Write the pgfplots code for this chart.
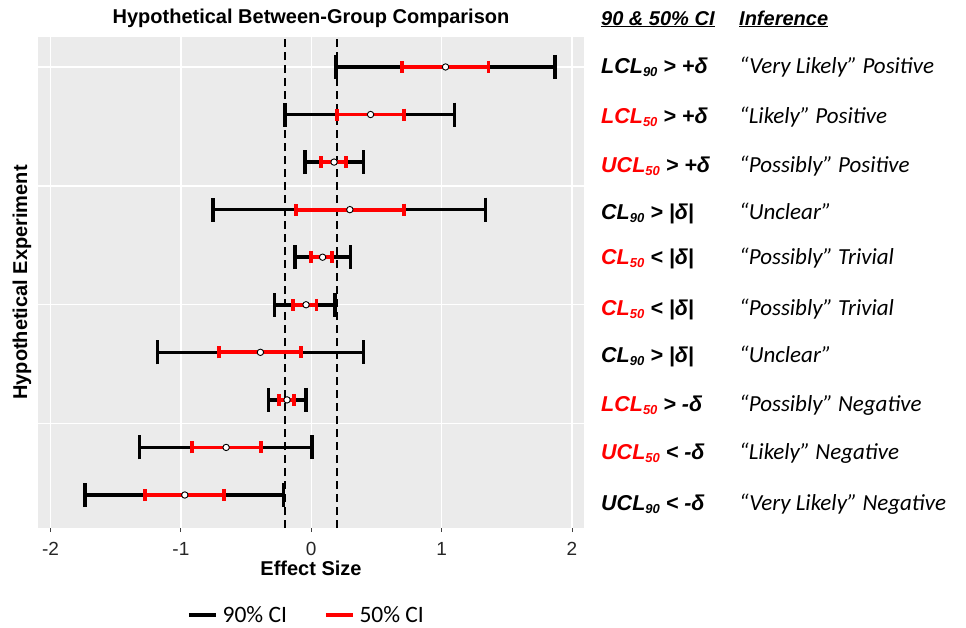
\documentclass[border=0pt]{standalone}
\usepackage{fontspec}
\setmainfont{Liberation Sans}
\newfontfamily\calibri{Carlito}
\usepackage{pgfplots}
\pgfplotsset{compat=1.18}
\usepackage{pgfplotstable}
\definecolor{panelbg}{HTML}{EBEBEB}
\definecolor{cired}{HTML}{FF0000}

\pgfplotstableread{
y  est    l90    u90    l50    u50
10 1.03   0.19   1.87   0.695  1.36
9  0.455  -0.20  1.10   0.20   0.71
8  0.175  -0.048 0.40   0.074  0.265
7  0.296  -0.755 1.336  -0.117 0.71
6  0.087  -0.125 0.30   0.00   0.16
5  -0.04  -0.283 0.18   -0.143 0.04
4  -0.39  -1.18  0.40   -0.71  -0.08
3  -0.186 -0.327 -0.04  -0.245 -0.135
2  -0.653 -1.316 0.005  -0.916 -0.385
1  -0.97  -1.737 -0.214 -1.275 -0.67
}\cidata

\newcommand\sub[1]{\raisebox{-3bp}{\fontsize{13bp}{13bp}\selectfont #1}}
\newcommand\lab[2]{\node[anchor=base west, inner sep=0pt] at (601bp,-#1bp) {\fontsize{21.5bp}{26bp}\selectfont\bfseries\itshape #2};}
\newcommand\infer[2]{\node[anchor=base west, inner sep=0pt] at (739bp,-#1bp) {\calibri\itshape\fontsize{23bp}{27bp}\selectfont #2};}

\begin{document}
\begin{tikzpicture}
\path[use as bounding box] (0,0) rectangle (966bp,-628bp);
\begin{axis}[
  at={(38bp,-37bp)}, anchor=north west,
  width=546bp, height=491bp, scale only axis,
  xmin=-2.096, xmax=2.092, ymin=0.306, ymax=10.63,
  axis background/.style={fill=panelbg},
  axis line style={draw=none},
  grid=major, major grid style={white, line width=1.3bp},
  xtick={-2,-1,0,1,2}, xticklabels={-2,-1,0,1,2},
  ytick={2.5,5,7.5,10}, yticklabels={},
  tick align=outside, xtick pos=bottom, ytick pos=left,
  major tick length=4bp,
  xtick style={black!75, line width=1bp},
  ytick style={draw=none},
  xticklabel style={font=\fontsize{19bp}{22bp}\selectfont, text=black!85, anchor=base, yshift=-23bp},
  xlabel={\textbf{Effect Size}},
  xlabel style={at={(axis description cs:0.5,-0.0815)}, anchor=center, font=\fontsize{20bp}{24bp}\selectfont},
  ylabel={\textbf{Hypothetical Experiment}},
  ylabel style={at={(axis description cs:-0.0293,0.5)}, anchor=center, font=\fontsize{20bp}{24bp}\selectfont},
  title={\textbf{Hypothetical Between-Group Comparison}},
  title style={at={(axis description cs:0.5,1.0265)}, anchor=center, yshift=0pt, font=\fontsize{20bp}{24bp}\selectfont},
  legend columns=2,
  legend style={at={(axis description cs:0.4945,-0.177)}, anchor=center, draw=none, fill=none,
    font=\calibri\fontsize{23.5bp}{27bp}\selectfont,
    nodes={inner xsep=5bp},
    /tikz/every even column/.append style={column sep=32bp}},
  legend image code/.code={\draw[#1] (0bp,0bp) -- (27bp,0bp);},
]
\addlegendimage{black, line width=3.5bp}
\addlegendentry{90\% CI}
\addlegendimage{cired, line width=3.5bp}
\addlegendentry{50\% CI}

\addplot[black, line width=2bp, dash pattern=on 8bp off 5bp, forget plot] coordinates {(-0.2,0.306) (-0.2,10.63)};
\addplot[black, line width=2bp, dash pattern=on 8bp off 5bp, forget plot] coordinates {(0.2,0.306) (0.2,10.63)};

\addplot[black, only marks, mark=none, forget plot,
  error bars/.cd, x dir=both, x explicit, error mark=|,
  error bar style={line width=3.6bp, black},
  error mark options={line width=3.6bp, mark size=12bp, black}]
  table[x=est, y=y, x error plus expr={\thisrow{u90}-\thisrow{est}}, x error minus expr={\thisrow{est}-\thisrow{l90}}] {\cidata};

\addplot[cired, only marks, mark=none, forget plot,
  error bars/.cd, x dir=both, x explicit, error mark=|,
  error bar style={line width=3.8bp, cired},
  error mark options={line width=3.8bp, mark size=6bp, cired}]
  table[x=est, y=y, x error plus expr={\thisrow{u50}-\thisrow{est}}, x error minus expr={\thisrow{est}-\thisrow{l50}}] {\cidata};

\addplot[only marks, mark=*, mark size=3.2bp, forget plot,
  mark options={fill=white, draw=black, line width=0.9bp}]
  table[x=est, y=y] {\cidata};
\end{axis}

\node[anchor=base west, inner sep=0pt] at (601bp,-25bp) {\fontsize{20bp}{24bp}\selectfont\bfseries\itshape \underline{90 \& 50\% CI}};
\node[anchor=base west, inner sep=0pt] at (739bp,-25bp) {\fontsize{20bp}{24bp}\selectfont\bfseries\itshape \underline{Inference}};

\lab{73.7}{LCL\sub{90} > +δ}
\lab{123.7}{{\color{cired}LCL\sub{50}} > +δ}
\lab{172.7}{{\color{cired}UCL\sub{50}} > +δ}
\lab{219.7}{CL\sub{90} > |δ|}
\lab{264.7}{{\color{cired}CL\sub{50}} < |δ|}
\lab{315.7}{{\color{cired}CL\sub{50}} < |δ|}
\lab{362.7}{CL\sub{90} > |δ|}
\lab{411.7}{{\color{cired}LCL\sub{50}} > -δ}
\lab{459.7}{{\color{cired}UCL\sub{50}} < -δ}
\lab{510.7}{UCL\sub{90} < -δ}

\infer{73.7}{“Very Likely” Positive}
\infer{123.7}{“Likely” Positive}
\infer{172.7}{“Possibly” Positive}
\infer{219.7}{“Unclear”}
\infer{264.7}{“Possibly” Trivial}
\infer{315.7}{“Possibly” Trivial}
\infer{362.7}{“Unclear”}
\infer{411.7}{“Possibly” Negative}
\infer{459.7}{“Likely” Negative}
\infer{510.7}{“Very Likely” Negative}
\end{tikzpicture}
\end{document}
